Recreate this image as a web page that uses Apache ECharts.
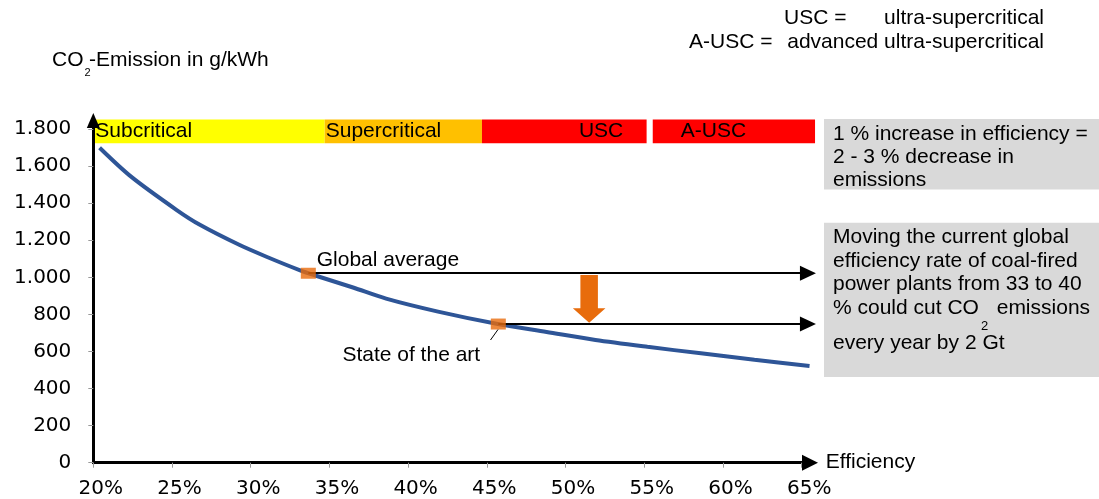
<!DOCTYPE html>
<html><head><meta charset="utf-8">
<script src="https://cdn.jsdelivr.net/npm/echarts@6/dist/echarts.min.js"></script>
<style>html,body{margin:0;padding:0;background:#fff}#c{width:1099px;height:499px}</style>
</head><body><div id="c"></div>
<script>
// ---- data ----
const efficiency = [20.4, 22.4, 25.3, 26.8, 29.3, 31.0, 33.1, 34.1, 36.5, 38.6, 41.9, 45.7, 48.8, 51.9, 55.2, 58.6, 62.0, 65.5];
const emission   = [1699, 1543, 1363, 1282, 1174, 1111, 1039, 1010, 945, 885, 815, 748, 705, 662, 625, 590, 555, 522];
const yTicks = [0, 200, 400, 600, 800, 1000, 1200, 1400, 1600, 1800];
const xTicks = [20, 25, 30, 35, 40, 45, 50, 55, 60, 65];
const phaseNames = ['Subcritical', 'Supercritical', 'USC', 'A-USC'];
const phaseStart = [20, 34.7, 44.69, 55.54];
const phaseEnd   = [34.7, 44.69, 55.15, 65.85];
const phaseBand  = [1723, 1852];
const globalAverage = [33.66, 1022];
const stateOfArt    = [45.73, 748];
const arrowEndX = 65.4;
const cutArrow = [51.5, 1012, 755]; // x, from, to

const FONT = 'Liberation Sans, Arial, sans-serif';
const TICKFONT = 'DejaVu Sans, sans-serif';
const ORANGE = '#E86C0C';
const phaseColors = ['#FFFF00', '#FFC000', '#FF0000', '#FF0000'];
const phaseLabelDist = [2, 1, 97, 28];

function fmtY(v) {
  if (v >= 1000) return Math.floor(v / 1000) + '.' + String(v % 1000).padStart(3, '0');
  return String(v);
}

const chart = echarts.init(document.getElementById('c'), null, {renderer: 'canvas'});

function txt(text, x, y, size, align, extra) {
  return Object.assign({
    type: 'text', z: 100,
    style: {text: text, x: x, y: y, fill: '#000', font: size + 'px ' + FONT,
            textAlign: align || 'left', textVerticalAlign: 'middle'}
  }, extra || {});
}

const graphics = [
  // y axis title
  txt('CO', 52, 60, 21),
  txt('2', 87.5, 73, 11, 'center'),
  txt('-Emission in g/kWh', 89, 60, 21),
  // legend text top right
  txt('USC =', 784, 18, 21),
  txt('ultra-supercritical', 1044, 18, 21, 'right'),
  txt('A-USC =', 689, 42, 21),
  txt('advanced ultra-supercritical', 1044, 42, 21, 'right'),
  // annotation labels
  txt('Global average', 316.7, 260, 21),
  txt('State of the art', 342.4, 355, 21),
  {type: 'line', z: 100, shape: {x1: 490.5, y1: 340, x2: 498, y2: 329.5}, style: {stroke: '#000', lineWidth: 1}},
  // right boxes
  {type: 'rect', z: 90, shape: {x: 824, y: 119, width: 275, height: 70.5}, style: {fill: '#D9D9D9'}},
  txt('1 % increase in efficiency =', 833, 134, 21),
  txt('2 - 3 % decrease in', 833, 157, 21),
  txt('emissions', 833, 180, 21),
  {type: 'rect', z: 90, shape: {x: 824, y: 222.7, width: 275, height: 154.3}, style: {fill: '#D9D9D9'}},
  txt('Moving the current global', 833, 237.5, 21),
  txt('efficiency rate of coal-fired', 833, 261, 21),
  txt('power plants from 33 to 40', 833, 284.5, 21),
  txt('% could cut CO', 833, 308, 21),
  txt('2', 984.5, 326, 13, 'center'),
  txt('emissions', 996.7, 308, 21),
  txt('every year by 2 Gt', 833, 343.3, 21)
];

const option = {
  animation: false,
  backgroundColor: '#fff',
  grid: {left: 93.3, right: 289, top: 120.5, bottom: 36.3, containLabel: false},
  xAxis: {
    type: 'value', min: 20, max: 65.53, interval: 5, z: 6,
    name: 'Efficiency', nameLocation: 'end', nameGap: 15.7,
    nameTextStyle: {fontSize: 21, color: '#000', fontFamily: FONT, verticalAlign: 'middle', padding: [0, 0, 5, 0]},
    splitLine: {show: false},
    axisLine: {show: true, lineStyle: {color: '#000', width: 3}, symbol: ['none', 'triangle'], symbolSize: [16, 16]},
    axisTick: {show: true, length: 5, lineStyle: {color: '#999', width: 1}, customValues: xTicks},
    axisLabel: {customValues: xTicks, formatter: v => v + '%', color: '#000', fontSize: 20,
                fontFamily: TICKFONT, margin: 16, padding: [0, 0, 0, 15]}
  },
  yAxis: {
    type: 'value', min: 0, max: 1846, interval: 200, z: 6,
    splitLine: {show: false},
    axisLine: {show: true, lineStyle: {color: '#000', width: 3}, symbol: ['none', 'triangle'], symbolSize: [13, 15]},
    axisTick: {show: true, length: 5, lineStyle: {color: '#999', width: 1}, customValues: yTicks},
    axisLabel: {customValues: yTicks, formatter: fmtY, color: '#000', fontSize: 20,
                fontFamily: TICKFONT, margin: 22}
  },
  graphic: graphics,
  series: [
    {
      type: 'custom', z: 2, silent: true, clip: false,
      data: phaseNames.map((n, i) => [phaseStart[i], phaseEnd[i], phaseBand[0], phaseBand[1], i]),
      renderItem: function (params, api) {
        const i = api.value(4);
        const p0 = api.coord([api.value(0), api.value(3)]);
        const p1 = api.coord([api.value(1), api.value(2)]);
        return {
          type: 'group',
          children: [
            {type: 'rect', shape: {x: p0[0], y: p0[1], width: p1[0] - p0[0], height: p1[1] - p0[1]},
             style: {fill: phaseColors[i]}},
            {type: 'text', style: {text: phaseNames[i], x: p0[0] + phaseLabelDist[i], y: (p0[1] + p1[1]) / 2,
             fill: '#000', font: '21px ' + FONT, textAlign: 'left', textVerticalAlign: 'middle'}}
          ]
        };
      }
    },
    {
      type: 'line', z: 3, clip: false, smooth: 0.3, showSymbol: false, silent: true,
      data: efficiency.map((e, i) => [e, emission[i]]),
      lineStyle: {color: '#2E5597', width: 4},
      markLine: {
        silent: true, symbol: ['none', 'triangle'], symbolSize: [15, 16],
        lineStyle: {color: '#000', width: 2, type: 'solid'}, label: {show: false},
        data: [
          [{coord: globalAverage}, {coord: [arrowEndX, globalAverage[1]]}],
          [{coord: stateOfArt}, {coord: [arrowEndX, stateOfArt[1]]}]
        ]
      }
    },
    {
      type: 'custom', z: 4, silent: true, clip: false,
      data: [cutArrow],
      renderItem: function (params, api) {
        const top = api.coord([api.value(0), api.value(1)]);
        const tip = api.coord([api.value(0), api.value(2)]);
        const hw = 8.75, hh = 16.3, head = 14.5;
        const cx = top[0];
        return {
          type: 'polygon',
          shape: {points: [[cx - hw, top[1]], [cx + hw, top[1]], [cx + hw, tip[1] - head], [cx + hh, tip[1] - head],
                           [cx, tip[1]], [cx - hh, tip[1] - head], [cx - hw, tip[1] - head]]},
          style: {fill: ORANGE}
        };
      }
    },
    {
      type: 'scatter', z: 10, silent: true, clip: false,
      symbol: 'rect', symbolSize: [15, 11],
      itemStyle: {color: ORANGE},
      data: [globalAverage, stateOfArt]
    }
  ]
};
chart.setOption(option);
</script>
</body></html>
